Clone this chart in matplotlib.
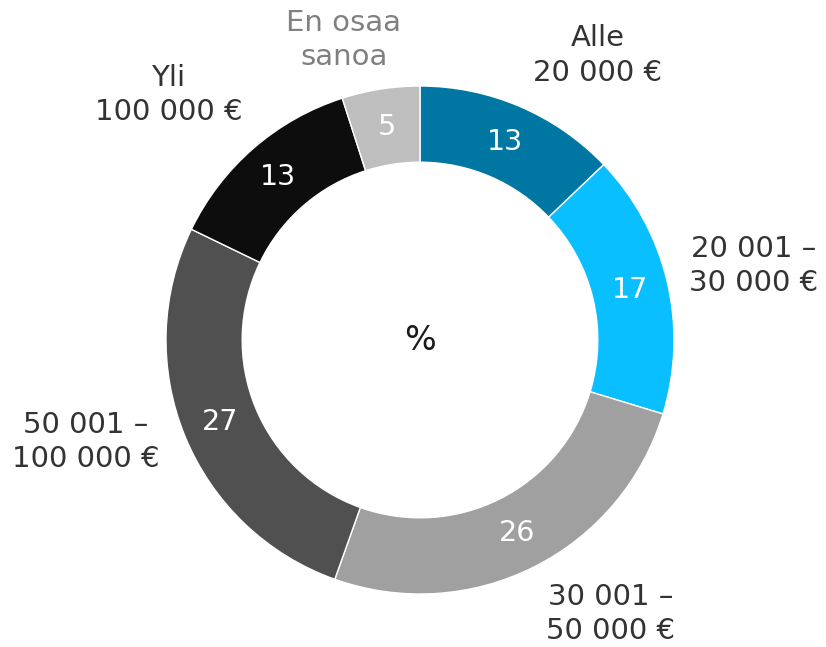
import matplotlib
matplotlib.use("Agg")
import matplotlib.pyplot as plt
import numpy as np

categories = ["Alle\n20 000 €", "20 001 –\n30 000 €", "30 001 –\n50 000 €",
              "50 001 –\n100 000 €", "Yli\n100 000 €", "En osaa\nsanoa"]
values = [13, 17, 26, 27, 13, 5]
colors = ["#0077A3", "#0ABFFF", "#A0A0A0", "#505050", "#0D0D0D", "#BEBEBE"]
label_colors = ["#333333", "#333333", "#333333", "#333333", "#333333", "#808080"]

# label positions (x, y) in axis units, radius-1 donut centered at origin
label_pos = [(0.70, 1.12), (1.315, 0.29), (0.75, -1.08), (-1.315, -0.40), (-0.99, 0.965), (-0.30, 1.18)]

plt.rcParams['font.family'] = ['DejaVu Sans']
fig = plt.figure(figsize=(8.26, 6.47), dpi=100)
ax = fig.add_axes([0, 0, 1, 1])
scale = 254.0
cx, cy = 420.0, 340.0

width = 0.3
wedges, _ = ax.pie(values, colors=colors, startangle=90, counterclock=False,
                   radius=1.0, wedgeprops=dict(width=width, edgecolor='white', linewidth=1),
                   frame=True)
ax.set_xlim(-cx / scale, (826 - cx) / scale)
ax.set_ylim(-(647 - cy) / scale, cy / scale)
ax.set_aspect('equal')
ax.axis('off')

total = sum(values)
cum = 0
rmid = 1 - width / 2
for v in values:
    mid = cum + v / 2
    ang = np.deg2rad(90 - mid / total * 360)
    ax.text(rmid * np.cos(ang), rmid * np.sin(ang), str(v), ha='center', va='center',
            fontsize=20.5, color='white')
    cum += v

for lab, (x, y), c in zip(categories, label_pos, label_colors):
    ax.text(x, y, lab, ha='center', va='center', fontsize=21, color=c, linespacing=1.28)

ax.text(0.0, 0.0, "%", ha='center', va='center', fontsize=24, color='#1a1a1a')

fig.savefig("out.png", dpi=100)
